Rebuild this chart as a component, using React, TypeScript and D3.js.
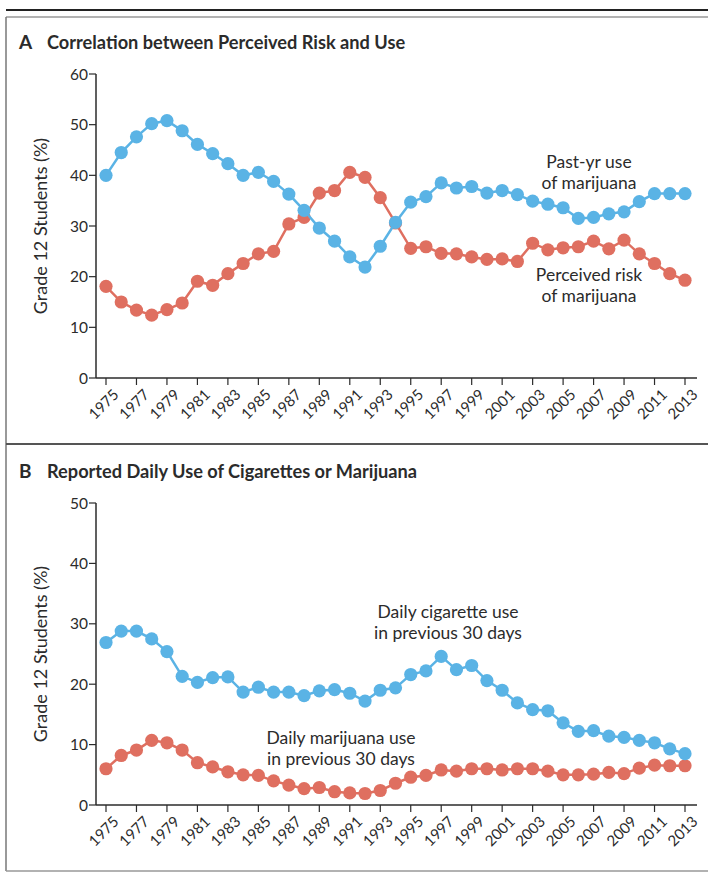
import * as d3 from "d3";

// survey years, Monitoring the Future, grade 12
const years = [
  1975, 1976, 1977, 1978, 1979, 1980, 1981, 1982, 1983, 1984, 1985, 1986, 1987,
  1988, 1989, 1990, 1991, 1992, 1993, 1994, 1995, 1996, 1997, 1998, 1999, 2000,
  2001, 2002, 2003, 2004, 2005, 2006, 2007, 2008, 2009, 2010, 2011, 2012, 2013,
];
const tickYears = [
  1975, 1977, 1979, 1981, 1983, 1985, 1987, 1989, 1991, 1993, 1995, 1997, 1999,
  2001, 2003, 2005, 2007, 2009, 2011, 2013,
];

// panel A
const pastYearUse = [
  40.0, 44.5, 47.6, 50.2, 50.8, 48.8, 46.1, 44.3, 42.3, 40.0, 40.6, 38.8, 36.3,
  33.1, 29.6, 27.0, 23.9, 21.9, 26.0, 30.7, 34.7, 35.8, 38.5, 37.5, 37.8, 36.5,
  37.0, 36.2, 34.9, 34.3, 33.6, 31.5, 31.7, 32.4, 32.8, 34.8, 36.4, 36.4, 36.4,
];
const perceivedRisk = [
  18.1, 15.0, 13.4, 12.4, 13.5, 14.8, 19.1, 18.3, 20.6, 22.6, 24.5, 25.0, 30.4,
  31.7, 36.5, 37.0, 40.6, 39.6, 35.6, 30.6, 25.6, 25.9, 24.6, 24.5, 23.9, 23.4,
  23.5, 23.0, 26.6, 25.3, 25.7, 25.9, 27.0, 25.5, 27.2, 24.5, 22.6, 20.6, 19.3,
];
const ticksA = [0, 10, 20, 30, 40, 50, 60];

// panel B
const dailyCigarette = [
  26.9, 28.8, 28.8, 27.5, 25.4, 21.3, 20.3, 21.1, 21.2, 18.7, 19.5, 18.7, 18.7,
  18.1, 18.9, 19.1, 18.5, 17.2, 19.0, 19.4, 21.6, 22.2, 24.6, 22.4, 23.1, 20.6,
  19.0, 16.9, 15.8, 15.6, 13.6, 12.2, 12.3, 11.4, 11.2, 10.7, 10.3, 9.3, 8.5,
];
const dailyMarijuana = [
  6.0, 8.2, 9.1, 10.7, 10.3, 9.1, 7.0, 6.3, 5.5, 5.0, 4.9, 4.0, 3.3, 2.7, 2.9,
  2.2, 2.0, 1.9, 2.4, 3.6, 4.6, 4.9, 5.8, 5.6, 6.0, 6.0, 5.8, 6.0, 6.0, 5.6,
  5.0, 5.0, 5.1, 5.4, 5.2, 6.1, 6.6, 6.5, 6.5,
];
const ticksB = [0, 10, 20, 30, 40, 50];

const BLUE = "#5ab3e5";
const RED = "#df6f60";
const INK = "#2b2b2b";
const FONT = "Lato, 'Open Sans', sans-serif";

type Note = { lines: string[]; x: number; y: number };
type Series = { values: number[]; color: string };

const x = d3.scaleLinear().domain([1975, 2013]).range([106, 685]);

function Panel({
  top,
  letter,
  title,
  yMax,
  yTop,
  yBottom,
  ticks,
  series,
  notes,
}: {
  top: number;
  letter: string;
  title: string;
  yMax: number;
  yTop: number;
  yBottom: number;
  ticks: number[];
  series: Series[];
  notes: Note[];
}) {
  const y = d3.scaleLinear().domain([0, yMax]).range([yBottom, yTop]);
  const axisX = 96;
  const mk = d3
    .line<number>()
    .x((_, i) => x(years[i]))
    .y((v) => y(v));

  return (
    <g>
      <text x={19} y={top} fontFamily={FONT} fontSize={19} fontWeight={700} fill={INK}>
        {letter}
      </text>
      <text x={47} y={top} fontFamily={FONT} fontSize={18.2} fontWeight={700} fill={INK}>
        {title}
      </text>

      {/* y axis */}
      <line x1={axisX} x2={axisX} y1={yTop} y2={yBottom} stroke={INK} strokeWidth={1.5} />
      {ticks.map((t) => (
        <g key={t}>
          <line x1={axisX - 7} x2={axisX} y1={y(t)} y2={y(t)} stroke={INK} strokeWidth={1.2} />
          <text
            x={axisX - 8}
            y={y(t)}
            dy="0.36em"
            textAnchor="end"
            fontFamily={FONT}
            fontSize={15.5}
            fill={INK}
          >
            {t}
          </text>
        </g>
      ))}
      <text
        transform={`translate(47,${(yTop + yBottom) / 2}) rotate(-90)`}
        textAnchor="middle"
        fontFamily={FONT}
        fontSize={18}
        fill={INK}
      >
        Grade 12 Students (%)
      </text>

      {/* x axis */}
      <line x1={axisX} x2={697} y1={yBottom} y2={yBottom} stroke={INK} strokeWidth={1.5} />
      {tickYears.map((yr) => (
        <g key={yr}>
          <line x1={x(yr)} x2={x(yr)} y1={yBottom} y2={yBottom + 7} stroke={INK} strokeWidth={1.2} />
          <text
            transform={`translate(${x(yr) + 6},${yBottom + 10}) rotate(-45)`}
            textAnchor="end"
            dy="0.72em"
            fontFamily={FONT}
            fontSize={15}
            fill={INK}
          >
            {yr}
          </text>
        </g>
      ))}

      {series.map((s, k) => (
        <g key={k}>
          <path d={mk(s.values) ?? ""} fill="none" stroke={s.color} strokeWidth={2.5} />
          {s.values.map((v, i) => (
            <circle key={i} cx={x(years[i])} cy={y(v)} r={6.6} fill={s.color} />
          ))}
        </g>
      ))}

      {notes.map((n, k) => (
        <text key={k} textAnchor="middle" fontFamily={FONT} fontSize={17.5} fill={INK}>
          {n.lines.map((l, j) => (
            <tspan key={j} x={n.x} y={n.y + j * 20.5}>
              {l}
            </tspan>
          ))}
        </text>
      ))}
    </g>
  );
}

export default function App() {
  return (
    <div style={{ position: "absolute", left: 0, top: 0 }}>
      <svg width={708} height={878} style={{ display: "block", background: "#fff" }}>
        {/* frame */}
        <line x1={6} x2={708} y1={10} y2={10} stroke="#222" strokeWidth={2} />
        <line x1={6} x2={708} y1={17} y2={17} stroke="#666" strokeWidth={1.2} />
        <line x1={6} x2={6} y1={17} y2={871} stroke="#777" strokeWidth={1.5} />
        <line x1={6} x2={708} y1={444} y2={444} stroke="#555" strokeWidth={2} />
        <line x1={6} x2={708} y1={871} y2={871} stroke="#999" strokeWidth={1.5} />

        <Panel
          top={49}
          letter="A"
          title="Correlation between Perceived Risk and Use"
          yMax={60}
          yTop={74}
          yBottom={378}
          ticks={ticksA}
          series={[
            { values: perceivedRisk, color: RED },
            { values: pastYearUse, color: BLUE },
          ]}
          notes={[
            { lines: ["Past-yr use", "of marijuana"], x: 589, y: 168 },
            { lines: ["Perceived risk", "of marijuana"], x: 589, y: 281 },
          ]}
        />
        <Panel
          top={478}
          letter="B"
          title="Reported Daily Use of Cigarettes or Marijuana"
          yMax={50}
          yTop={503}
          yBottom={805}
          ticks={ticksB}
          series={[
            { values: dailyMarijuana, color: RED },
            { values: dailyCigarette, color: BLUE },
          ]}
          notes={[
            { lines: ["Daily cigarette use", "in previous 30 days"], x: 448, y: 618 },
            { lines: ["Daily marijuana use", "in previous 30 days"], x: 341, y: 744 },
          ]}
        />
      </svg>
    </div>
  );
}
